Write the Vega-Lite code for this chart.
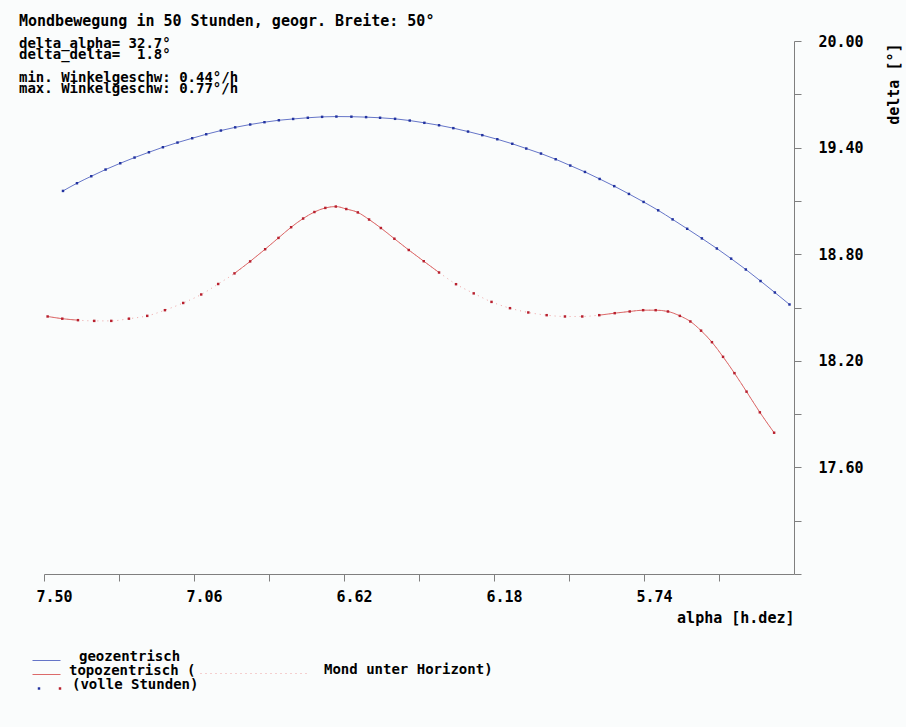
{
  "$schema": "https://vega.github.io/schema/vega-lite/v6.json",
  "width": 750,
  "height": 533,
  "autosize": {"type": "none"},
  "padding": {"left": 44, "top": 41, "right": 112, "bottom": 153},
  "background": "#fafcfc",
  "title": {
    "text": "Mondbewegung in 50 Stunden, geogr. Breite: 50°",
    "subtitle": ["delta_alpha= 32.7°", "delta_delta= \u00a01.8°", "\u2800", "min. Winkelgeschw: 0.44°/h", "max. Winkelgeschw: 0.77°/h"],
    "anchor": "start",
    "frame": "group",
    "dx": -25,
    "offset": -62,
    "font": "DejaVu Sans Mono",
    "fontSize": 15,
    "fontWeight": "bold",
    "color": "#000000",
    "subtitleFont": "DejaVu Sans Mono",
    "subtitleFontSize": 14,
    "subtitleFontWeight": "bold",
    "subtitleColor": "#000000",
    "subtitleLineHeight": 11.3,
    "subtitlePadding": 8
  },
  "data": {
    "values": [
      {"s": "geo", "h": 0, "alpha": 7.4443, "delta": 19.1561, "up": true, "arc": "g"},
      {"s": "geo", "h": 1, "alpha": 7.4033, "delta": 19.1994, "up": true, "arc": "g"},
      {"s": "geo", "h": 2, "alpha": 7.3613, "delta": 19.2388, "up": true, "arc": "g"},
      {"s": "geo", "h": 3, "alpha": 7.3194, "delta": 19.2765, "up": true, "arc": "g"},
      {"s": "geo", "h": 4, "alpha": 7.2763, "delta": 19.3119, "up": true, "arc": "g"},
      {"s": "geo", "h": 5, "alpha": 7.2344, "delta": 19.3440, "up": true, "arc": "g"},
      {"s": "geo", "h": 6, "alpha": 7.1922, "delta": 19.3738, "up": true, "arc": "g"},
      {"s": "geo", "h": 7, "alpha": 7.1512, "delta": 19.4020, "up": true, "arc": "g"},
      {"s": "geo", "h": 8, "alpha": 7.1084, "delta": 19.4284, "up": true, "arc": "g"},
      {"s": "geo", "h": 9, "alpha": 7.0653, "delta": 19.4526, "up": true, "arc": "g"},
      {"s": "geo", "h": 10, "alpha": 7.0242, "delta": 19.4751, "up": true, "arc": "g"},
      {"s": "geo", "h": 11, "alpha": 6.9811, "delta": 19.4960, "up": true, "arc": "g"},
      {"s": "geo", "h": 12, "alpha": 6.9392, "delta": 19.5140, "up": true, "arc": "g"},
      {"s": "geo", "h": 13, "alpha": 6.8952, "delta": 19.5300, "up": true, "arc": "g"},
      {"s": "geo", "h": 14, "alpha": 6.8533, "delta": 19.5430, "up": true, "arc": "g"},
      {"s": "geo", "h": 15, "alpha": 6.8111, "delta": 19.5539, "up": true, "arc": "g"},
      {"s": "geo", "h": 16, "alpha": 6.7692, "delta": 19.5612, "up": true, "arc": "g"},
      {"s": "geo", "h": 17, "alpha": 6.7261, "delta": 19.5680, "up": true, "arc": "g"},
      {"s": "geo", "h": 18, "alpha": 6.6842, "delta": 19.5730, "up": true, "arc": "g"},
      {"s": "geo", "h": 19, "alpha": 6.6423, "delta": 19.5747, "up": true, "arc": "g"},
      {"s": "geo", "h": 20, "alpha": 6.5983, "delta": 19.5740, "up": true, "arc": "g"},
      {"s": "geo", "h": 21, "alpha": 6.5552, "delta": 19.5715, "up": true, "arc": "g"},
      {"s": "geo", "h": 22, "alpha": 6.5142, "delta": 19.5679, "up": true, "arc": "g"},
      {"s": "geo", "h": 23, "alpha": 6.4702, "delta": 19.5620, "up": true, "arc": "g"},
      {"s": "geo", "h": 24, "alpha": 6.4271, "delta": 19.5522, "up": true, "arc": "g"},
      {"s": "geo", "h": 25, "alpha": 6.3843, "delta": 19.5395, "up": true, "arc": "g"},
      {"s": "geo", "h": 26, "alpha": 6.3412, "delta": 19.5257, "up": true, "arc": "g"},
      {"s": "geo", "h": 27, "alpha": 6.2993, "delta": 19.5095, "up": true, "arc": "g"},
      {"s": "geo", "h": 28, "alpha": 6.2562, "delta": 19.4903, "up": true, "arc": "g"},
      {"s": "geo", "h": 29, "alpha": 6.2143, "delta": 19.4700, "up": true, "arc": "g"},
      {"s": "geo", "h": 30, "alpha": 6.1703, "delta": 19.4470, "up": true, "arc": "g"},
      {"s": "geo", "h": 31, "alpha": 6.1263, "delta": 19.4215, "up": true, "arc": "g"},
      {"s": "geo", "h": 32, "alpha": 6.0853, "delta": 19.3947, "up": true, "arc": "g"},
      {"s": "geo", "h": 33, "alpha": 6.0422, "delta": 19.3665, "up": true, "arc": "g"},
      {"s": "geo", "h": 34, "alpha": 5.9991, "delta": 19.3345, "up": true, "arc": "g"},
      {"s": "geo", "h": 35, "alpha": 5.9563, "delta": 19.2990, "up": true, "arc": "g"},
      {"s": "geo", "h": 36, "alpha": 5.9132, "delta": 19.2630, "up": true, "arc": "g"},
      {"s": "geo", "h": 37, "alpha": 5.8701, "delta": 19.2236, "up": true, "arc": "g"},
      {"s": "geo", "h": 38, "alpha": 5.8273, "delta": 19.1830, "up": true, "arc": "g"},
      {"s": "geo", "h": 39, "alpha": 5.7842, "delta": 19.1392, "up": true, "arc": "g"},
      {"s": "geo", "h": 40, "alpha": 5.7412, "delta": 19.0942, "up": true, "arc": "g"},
      {"s": "geo", "h": 41, "alpha": 5.6984, "delta": 19.0470, "up": true, "arc": "g"},
      {"s": "geo", "h": 42, "alpha": 5.6561, "delta": 18.9960, "up": true, "arc": "g"},
      {"s": "geo", "h": 43, "alpha": 5.6133, "delta": 18.9430, "up": true, "arc": "g"},
      {"s": "geo", "h": 44, "alpha": 5.5702, "delta": 18.8890, "up": true, "arc": "g"},
      {"s": "geo", "h": 45, "alpha": 5.5263, "delta": 18.8321, "up": true, "arc": "g"},
      {"s": "geo", "h": 46, "alpha": 5.4844, "delta": 18.7750, "up": true, "arc": "g"},
      {"s": "geo", "h": 47, "alpha": 5.4413, "delta": 18.7139, "up": true, "arc": "g"},
      {"s": "geo", "h": 48, "alpha": 5.3982, "delta": 18.6490, "up": true, "arc": "g"},
      {"s": "geo", "h": 49, "alpha": 5.3562, "delta": 18.5845, "up": true, "arc": "g"},
      {"s": "geo", "h": 50, "alpha": 5.3132, "delta": 18.5170, "up": true, "arc": "g"},
      {"s": "topo", "h": 0, "alpha": 7.4894, "delta": 18.4495, "up": true, "arc": "t1"},
      {"s": "topo", "h": 1, "alpha": 7.4464, "delta": 18.4371, "up": true, "arc": "t1"},
      {"s": "topo", "h": 2, "alpha": 7.4003, "delta": 18.4287, "up": true, "arc": "t1"},
      {"s": "topo", "h": 3, "alpha": 7.3526, "delta": 18.4247, "up": false, "arc": "d1"},
      {"s": "topo", "h": 4, "alpha": 7.3027, "delta": 18.4247, "up": false, "arc": "d1"},
      {"s": "topo", "h": 5, "alpha": 7.2508, "delta": 18.4371, "up": false, "arc": "d1"},
      {"s": "topo", "h": 6, "alpha": 7.1972, "delta": 18.4529, "up": false, "arc": "d1"},
      {"s": "topo", "h": 7, "alpha": 7.1453, "delta": 18.4849, "up": false, "arc": "d1"},
      {"s": "topo", "h": 8, "alpha": 7.0917, "delta": 18.5255, "up": false, "arc": "d1"},
      {"s": "topo", "h": 9, "alpha": 7.0389, "delta": 18.5733, "up": false, "arc": "d1"},
      {"s": "topo", "h": 10, "alpha": 6.9891, "delta": 18.6323, "up": false, "arc": "d1"},
      {"s": "topo", "h": 11, "alpha": 6.9413, "delta": 18.6920, "up": true, "arc": "t2"},
      {"s": "topo", "h": 12, "alpha": 6.8953, "delta": 18.7595, "up": true, "arc": "t2"},
      {"s": "topo", "h": 13, "alpha": 6.8513, "delta": 18.8281, "up": true, "arc": "t2"},
      {"s": "topo", "h": 14, "alpha": 6.8123, "delta": 18.8917, "up": true, "arc": "t2"},
      {"s": "topo", "h": 15, "alpha": 6.7751, "delta": 18.9519, "up": true, "arc": "t2"},
      {"s": "topo", "h": 16, "alpha": 6.7399, "delta": 19.0008, "up": true, "arc": "t2"},
      {"s": "topo", "h": 17, "alpha": 6.7068, "delta": 19.0374, "up": true, "arc": "t2"},
      {"s": "topo", "h": 18, "alpha": 6.6748, "delta": 19.0605, "up": true, "arc": "t2"},
      {"s": "topo", "h": 19, "alpha": 6.6440, "delta": 19.0683, "up": true, "arc": "t2"},
      {"s": "topo", "h": 20, "alpha": 6.6133, "delta": 19.0543, "up": true, "arc": "t2"},
      {"s": "topo", "h": 21, "alpha": 6.5795, "delta": 19.0352, "up": true, "arc": "t2"},
      {"s": "topo", "h": 22, "alpha": 6.5464, "delta": 18.9952, "up": true, "arc": "t2"},
      {"s": "topo", "h": 23, "alpha": 6.5118, "delta": 18.9474, "up": true, "arc": "t2"},
      {"s": "topo", "h": 24, "alpha": 6.4722, "delta": 18.8872, "up": true, "arc": "t2"},
      {"s": "topo", "h": 25, "alpha": 6.4300, "delta": 18.8236, "up": true, "arc": "t2"},
      {"s": "topo", "h": 26, "alpha": 6.3861, "delta": 18.7606, "up": true, "arc": "t2"},
      {"s": "topo", "h": 27, "alpha": 6.3412, "delta": 18.6970, "up": true, "arc": "t2"},
      {"s": "topo", "h": 28, "alpha": 6.2914, "delta": 18.6312, "up": false, "arc": "d2"},
      {"s": "topo", "h": 29, "alpha": 6.2395, "delta": 18.5795, "up": false, "arc": "d2"},
      {"s": "topo", "h": 30, "alpha": 6.1873, "delta": 18.5316, "up": false, "arc": "d2"},
      {"s": "topo", "h": 31, "alpha": 6.1331, "delta": 18.4962, "up": false, "arc": "d2"},
      {"s": "topo", "h": 32, "alpha": 6.0794, "delta": 18.4720, "up": false, "arc": "d2"},
      {"s": "topo", "h": 33, "alpha": 6.0255, "delta": 18.4568, "up": false, "arc": "d2"},
      {"s": "topo", "h": 34, "alpha": 5.9719, "delta": 18.4495, "up": false, "arc": "d2"},
      {"s": "topo", "h": 35, "alpha": 5.9211, "delta": 18.4495, "up": false, "arc": "d2"},
      {"s": "topo", "h": 36, "alpha": 5.8713, "delta": 18.4568, "up": true, "arc": "t3"},
      {"s": "topo", "h": 37, "alpha": 5.8259, "delta": 18.4681, "up": true, "arc": "t3"},
      {"s": "topo", "h": 38, "alpha": 5.7819, "delta": 18.4776, "up": true, "arc": "t3"},
      {"s": "topo", "h": 39, "alpha": 5.7426, "delta": 18.4849, "up": true, "arc": "t3"},
      {"s": "topo", "h": 40, "alpha": 5.7057, "delta": 18.4849, "up": true, "arc": "t3"},
      {"s": "topo", "h": 41, "alpha": 5.6699, "delta": 18.4776, "up": true, "arc": "t3"},
      {"s": "topo", "h": 42, "alpha": 5.6348, "delta": 18.4529, "up": true, "arc": "t3"},
      {"s": "topo", "h": 43, "alpha": 5.6040, "delta": 18.4214, "up": true, "arc": "t3"},
      {"s": "topo", "h": 44, "alpha": 5.5726, "delta": 18.3696, "up": true, "arc": "t3"},
      {"s": "topo", "h": 45, "alpha": 5.5407, "delta": 18.3049, "up": true, "arc": "t3"},
      {"s": "topo", "h": 46, "alpha": 5.5081, "delta": 18.2222, "up": true, "arc": "t3"},
      {"s": "topo", "h": 47, "alpha": 5.4747, "delta": 18.1305, "up": true, "arc": "t3"},
      {"s": "topo", "h": 48, "alpha": 5.4392, "delta": 18.0264, "up": true, "arc": "t3"},
      {"s": "topo", "h": 49, "alpha": 5.4002, "delta": 17.9100, "up": true, "arc": "t3"},
      {"s": "topo", "h": 50, "alpha": 5.3583, "delta": 17.7952, "up": true, "arc": "t3"}
    ]
  },
  "encoding": {
    "x": {
      "field": "alpha",
      "type": "quantitative",
      "scale": {"domain": [5.3, 7.5], "reverse": true, "nice": false, "zero": false},
      "axis": {
        "title": "alpha [h.dez]",
        "values": [7.5, 7.28, 7.06, 6.84, 6.62, 6.4, 6.18, 5.96, 5.74, 5.52],
        "labelExpr": "indexof([7.5, 7.06, 6.62, 6.18, 5.74], datum.value) >= 0 ? format(datum.value, '.2f') : ''",
        "tickSize": 7,
        "labelPadding": 8,
        "labelOffset": 10,
        "labelFlush": false,
        "labelOverlap": false,
        "labelBound": false,
        "titleX": 750,
        "titleY": 43,
        "titleAlign": "right",
        "titleBaseline": "middle"
      }
    },
    "y": {
      "field": "delta",
      "type": "quantitative",
      "scale": {"domain": [17, 20], "nice": false, "zero": false},
      "axis": {
        "orient": "right",
        "title": "delta [°]",
        "values": [17, 17.3, 17.6, 17.9, 18.2, 18.5, 18.8, 19.1, 19.4, 19.7, 20],
        "labelExpr": "indexof([17.6, 18.2, 18.8, 19.4, 20], datum.value) >= 0 ? format(datum.value, '.2f') : ''",
        "tickSize": 7,
        "labelPadding": 17,
        "labelFlush": false,
        "labelOverlap": false,
        "labelBound": false,
        "titleAngle": 270,
        "titleX": 99,
        "titleY": 2,
        "titleAlign": "right",
        "titleBaseline": "middle"
      }
    }
  },
  "layer": [
    {
      "transform": [{"filter": "datum.s == 'topo'"}],
      "mark": {"type": "line", "color": "#eea3a3", "strokeWidth": 1, "interpolate": "monotone"},
      "encoding": {
        "strokeDash": {
          "field": "s",
          "type": "nominal",
          "scale": {"domain": ["topo"], "range": [[1, 4]]},
          "legend": {
            "orient": "none",
            "legendX": 156,
            "legendY": 626,
            "title": null,
            "padding": 0,
            "symbolType": "stroke",
            "symbolSize": 11449,
            "symbolStrokeWidth": 1,
            "symbolStrokeColor": "#eea3a3",
            "clipHeight": 13,
            "labelOffset": 16,
            "labelBaseline": "alphabetic",
            "labelExpr": "'Mond unter Horizont)'"
          }
        }
      }
    },
    {
      "transform": [{"filter": "datum.up"}],
      "mark": {"type": "line", "strokeWidth": 1, "interpolate": "monotone"},
      "encoding": {
        "detail": {"field": "arc", "type": "nominal"},
        "stroke": {
          "field": "s",
          "type": "nominal",
          "scale": {"domain": ["geo", "topo"], "range": ["#6575c8", "#dc6a6a"]},
          "legend": {
            "orient": "none",
            "legendX": -12,
            "legendY": 613,
            "title": null,
            "padding": 0,
            "rowPadding": -4,
            "symbolType": "stroke",
            "symbolSize": 784,
            "symbolStrokeWidth": 1,
            "clipHeight": 13,
            "labelOffset": 8,
            "labelBaseline": "alphabetic",
            "labelExpr": "datum.value == 'geo' ? '\u2800geozentrisch' : 'topozentrisch ('"
          }
        }
      }
    },
    {
      "mark": {"type": "square", "size": 6, "filled": true, "opacity": 1},
      "encoding": {
        "fill": {
          "field": "s",
          "type": "nominal",
          "scale": {"domain": ["topo", "geo"], "range": ["#b8202e", "#2233a0"]},
          "legend": {
            "orient": "none",
            "legendX": -12,
            "legendY": 641,
            "title": null,
            "padding": 0,
            "direction": "horizontal",
            "values": ["geo", "topo"],
            "symbolType": "square",
            "symbolSize": 6,
            "clipHeight": 13,
            "labelOffset": 5,
            "columnPadding": 2,
            "labelBaseline": "alphabetic",
            "labelExpr": "datum.value == 'geo' ? '' : '(volle Stunden)'"
          }
        }
      }
    }
  ],
  "config": {
    "view": {"stroke": null},
    "axis": {
      "grid": false,
      "domainColor": "#7f7f7f",
      "tickColor": "#7f7f7f",
      "domainWidth": 1,
      "tickWidth": 1,
      "labelFont": "DejaVu Sans Mono",
      "labelFontSize": 15,
      "labelFontWeight": "bold",
      "labelColor": "#000000",
      "titleFont": "DejaVu Sans Mono",
      "titleFontSize": 15,
      "titleFontWeight": "bold",
      "titleColor": "#000000"
    },
    "legend": {
      "labelFont": "DejaVu Sans Mono",
      "labelFontSize": 14,
      "labelFontWeight": "bold",
      "labelColor": "#000000",
      "labelLimit": 0
    }
  }
}
